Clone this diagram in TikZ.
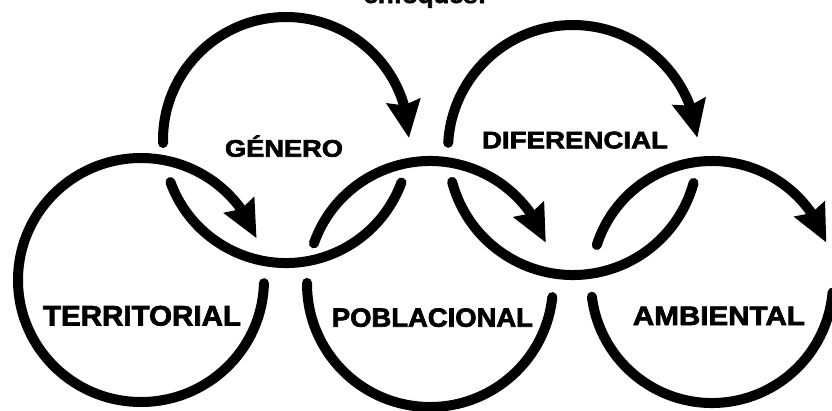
\documentclass[tikz,border=0pt]{standalone}
\usepackage{fontspec}
\setmainfont{Liberation Sans}[BoldFeatures={FakeBold=2.5}]
\usepackage{graphicx}
\usetikzlibrary{arrows.meta,bending}
% ring arc: style, cx, cy, rx, ry, start angle, end angle (y axis points down)
\newcommand\ringarc[7]{\draw[#1] ({#2+#4*cos(#6)},{#3+#5*sin(#6)}) arc[start angle=#6,end angle=#7,x radius=#4,y radius=#5];}
\begin{document}
\begin{tikzpicture}[x=1pt,y=-1pt,
  ring/.style={line width=10pt, line cap=round},
  arr/.style={ring, -{Stealth[length=37pt,width=33pt,inset=4pt]}},
  lbl/.style={inner sep=0pt, anchor=base}]
\useasboundingbox (0,0) rectangle (832,410);
\clip (0,0) rectangle (832,410);
% TERRITORIAL ring
\ringarc{arr}{141}{280}{123}{122}{1.5}{340}
% GENERO ring
\ringarc{arr}{286}{140}{123}{123}{178.6}{359.1}
\ringarc{ring}{286}{140}{123}{123}{160}{20.2}
% POBLACIONAL ring
\ringarc{arr}{430}{284}{123}{123}{199.3}{340.4}
\ringarc{ring}{430}{284}{123}{123}{6.1}{180.5}
% DIFERENCIAL ring
\ringarc{arr}{573}{150}{125}{125}{183.3}{354.4}
\ringarc{ring}{573}{150}{125}{125}{165.2}{15.3}
% AMBIENTAL ring
\ringarc{arr}{712}{282}{121}{121}{197.8}{341}
\ringarc{ring}{712}{282}{121}{121}{173}{5}
% labels
\node[lbl] (enfoques) at (425,3) {\scalebox{1.1}[1]{\fontsize{23.3pt}{28pt}\selectfont\bfseries enfoques:}};
\node[lbl] (territorial) at (142,325.5) {\resizebox{198pt}{19.7pt}{\bfseries TERRITORIAL}};
\node[lbl] (genero) at (284,156.7) {\resizebox{118pt}{16.7pt}{\bfseries G\smash{É}NERO}};
\node[lbl] (diferencial) at (575,148.3) {\resizebox{186pt}{16.7pt}{\bfseries DIFERENCIAL}};
\node[lbl] (poblacional) at (432.4,326.7) {\resizebox{201pt}{18.4pt}{\bfseries POBLACIONAL}};
\node[lbl] (ambiental) at (718.9,325) {\resizebox{172pt}{18.3pt}{\bfseries AMBIENTAL}};
\end{tikzpicture}
\end{document}
